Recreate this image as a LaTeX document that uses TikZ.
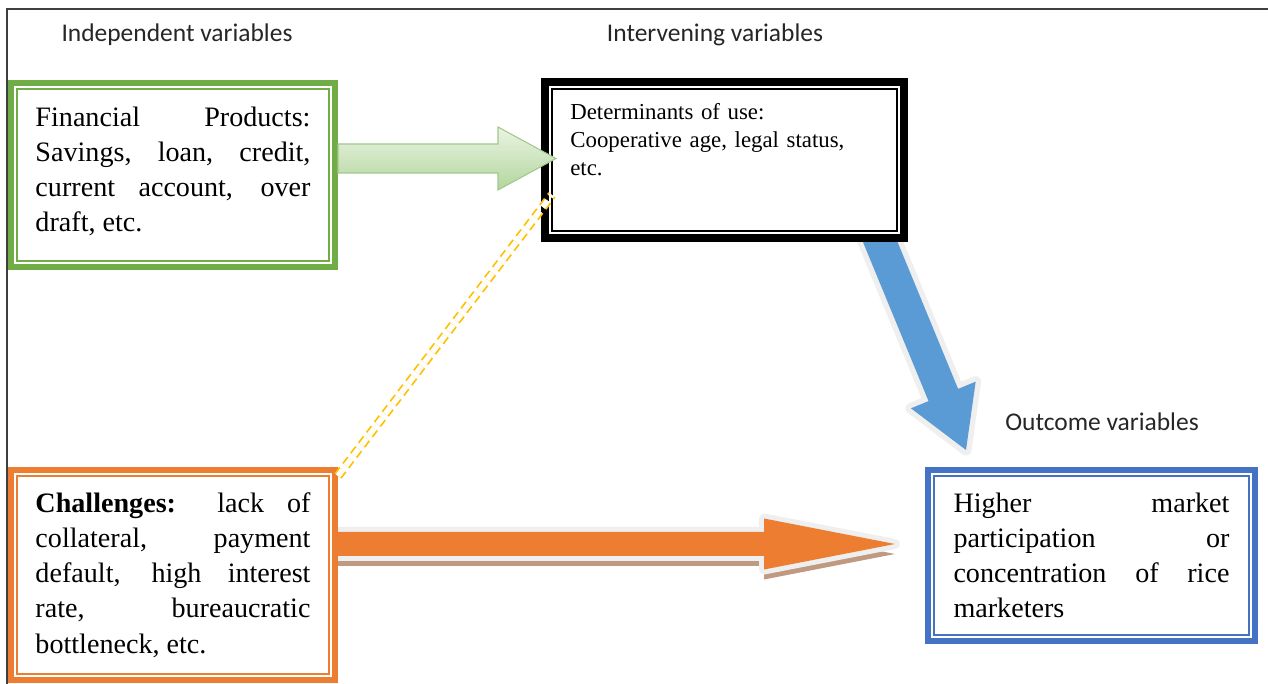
\documentclass[tikz,border=0pt]{standalone}
\usepackage{fontspec}
\setmainfont{Liberation Serif}
\newfontfamily\labelfont{Carlito}
\usetikzlibrary{calc,backgrounds}
\definecolor{boxgreen}{HTML}{70AD47}
\definecolor{boxorange}{HTML}{ED7D31}
\definecolor{boxblue}{HTML}{4472C4}
\definecolor{arrowblue}{HTML}{5B9BD5}
\definecolor{greentop}{HTML}{EAF4E3}
\definecolor{greenbottom}{HTML}{B3D69C}
\definecolor{greenline}{HTML}{A2C78B}
\definecolor{glow}{HTML}{EFEFEF}
\definecolor{shadowbrown}{HTML}{BF9A80}
\definecolor{shadowblue}{HTML}{98AFC7}
\definecolor{dashyellow}{HTML}{FFC000}
\definecolor{framegray}{HTML}{3F3F3F}
\tolerance=10000
\hbadness=10000
\hyphenpenalty=10000
% block arrow: start, tip, shaft half width, head half width, head length, style
\newcommand{\blockarrow}[6]{%
  \coordinate (ba-h) at ($(#2)!#5!(#1)$);
  \path[#6] ($(#1)!#3!90:(#2)$) -- ($(ba-h)!#3!-90:(#1)$) -- ($(ba-h)!#4!-90:(#1)$) -- (#2)
    -- ($(ba-h)!#4!90:(#1)$) -- ($(ba-h)!#3!90:(#1)$) -- ($(#1)!#3!-90:(#2)$) -- cycle;}

\begin{document}
\begin{tikzpicture}[
 vbox/.style={draw=#1,fill=white,line width=0.12cm,text width=5.5cm,inner xsep=0.48cm,
   align=justify,font=\fontsize{16}{20}\selectfont},
 innerframe/.style={draw=#1,line width=0.035cm},
 vlabel/.style={font=\labelfont\fontsize{14.5}{17}\selectfont,text=black!85},
 dashline/.style={draw=dashyellow,double=white,double distance=0.11cm,line width=0.035cm,
   dash pattern=on 0.16cm off 0.1cm}]
\useasboundingbox (0,0) rectangle (25.36,13.68);
\draw[framegray,line width=0.035cm] (0.14,0) -- (0.14,13.50) -- (25.36,13.50);
\node[vlabel] (li) at (3.54,12.98) {Independent variables};
\node[vlabel] (lv) at (14.30,12.98) {Intervening variables};
\node[vlabel] (lo) at (22.04,5.24) {Outcome variables};
\node[vbox=boxgreen,minimum width=6.48cm,minimum height=3.68cm] (fin) at (3.46,10.18)
  {Financial Products:\linebreak Savings, loan, credit,\linebreak current account, over\linebreak draft, etc.\vspace{0.15cm}};
\node[draw=black,fill=white,line width=0.16cm,minimum width=7.18cm,minimum height=3.12cm] (det) at (14.49,10.48) {};
\node[anchor=north west,inner sep=0pt,text width=6.3cm,align=left,font=\fontsize{13}{16}\selectfont] (dett)
  at ([xshift=0.58cm,yshift=-0.5cm]det.north west) {Determinants of use:\\Cooperative age, legal status,\\etc.};
\node[vbox=boxorange,minimum width=6.48cm,minimum height=4.2cm] (chal) at (3.46,2.18)
  {\textbf{Challenges:} lack of\linebreak collateral, payment\linebreak default, high interest\linebreak rate, bureaucratic\linebreak bottleneck, etc.};
\node[vbox=boxblue,text width=5.52cm,minimum width=6.54cm,minimum height=3.42cm] (mkt) at (21.83,2.57)
  {Higher market\linebreak participation or\linebreak concentration of rice\linebreak marketers};
% inner thin frames
\draw[innerframe=boxgreen] ($(fin.south west)+(0.175,0.175)$) rectangle ($(fin.north east)-(0.175,0.175)$);
\draw[innerframe=boxorange] ($(chal.south west)+(0.175,0.175)$) rectangle ($(chal.north east)-(0.175,0.175)$);
\draw[innerframe=boxblue] ($(mkt.south west)+(0.175,0.175)$) rectangle ($(mkt.north east)-(0.175,0.175)$);
\draw[innerframe=black] ($(det.south west)+(0.215,0.215)$) rectangle ($(det.north east)-(0.215,0.215)$);
% arrows
\coordinate (gs) at ([yshift=0.33cm]fin.east);
\coordinate (ge) at ([xshift=0.30cm,yshift=0.03cm]det.west);
\coordinate (os) at ([yshift=0.62cm]chal.east);
\coordinate (oe) at ([xshift=-0.60cm,yshift=0.23cm]mkt.west);
\coordinate (bs) at ([xshift=-0.72cm,yshift=0.40cm]det.south east);
\coordinate (be) at ([xshift=0.82cm,yshift=0.34cm]mkt.north west);
\begin{scope}[on background layer]
  \begin{scope}[transform canvas={yshift=-0.2cm}]
    \blockarrow{os}{oe}{0.24cm}{0.51cm}{2.62cm}{fill=shadowbrown}
  \end{scope}
  \blockarrow{os}{oe}{0.24cm}{0.51cm}{2.62cm}{draw=glow,line width=0.2cm,line join=round,postaction={fill=boxorange}}
  \begin{scope}[transform canvas={xshift=0.06cm,yshift=-0.03cm}]
    \blockarrow{bs}{be}{0.32cm}{0.70cm}{1.19cm}{fill=shadowblue}
  \end{scope}
  \blockarrow{bs}{be}{0.32cm}{0.70cm}{1.19cm}{draw=glow,line width=0.22cm,line join=round,postaction={fill=arrowblue}}
\end{scope}
\blockarrow{gs}{ge}{0.29cm}{0.63cm}{1.16cm}{top color=greentop,bottom color=greenbottom,draw=greenline,line width=0.6pt}
\draw[dashline] ([yshift=-0.18cm]chal.north east) -- ([xshift=0.22cm,yshift=0.94cm]det.south west);
\end{tikzpicture}
\end{document}
